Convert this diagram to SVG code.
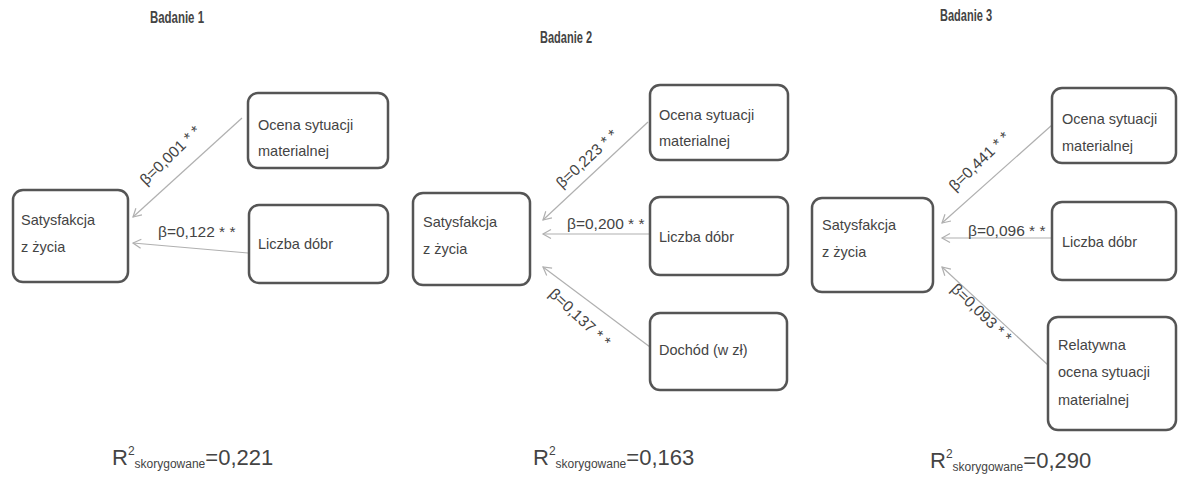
<svg xmlns="http://www.w3.org/2000/svg" width="1182" height="478" viewBox="0 0 1182 478">
<style>
text{font-family:"Liberation Sans",Arial,sans-serif;fill:#444}
.box{fill:#fff;stroke:#555;stroke-width:2.5}
.t{font-size:14.5px}
.h{font-size:17px;font-weight:bold}
.b{font-size:15.5px}
.r{font-size:22px}
.s{font-size:12px}
.c{stroke:#b0b0b0;stroke-width:1.2;fill:none;marker-end:url(#ar)}
</style>
<defs>
<marker id="ar" markerWidth="12" markerHeight="12" refX="10" refY="6" orient="auto" markerUnits="userSpaceOnUse">
<path d="M2,1.5 L10,6 L2,10.5" fill="none" stroke="#b0b0b0" stroke-width="1.2"/>
</marker>
</defs>
<rect width="1182" height="478" fill="#fff"/>
<text class="h" x="150" y="23" textLength="54" lengthAdjust="spacingAndGlyphs">Badanie 1</text>
<text class="h" x="540" y="43" textLength="52" lengthAdjust="spacingAndGlyphs">Badanie 2</text>
<text class="h" x="940" y="21" textLength="52" lengthAdjust="spacingAndGlyphs">Badanie 3</text>

<g id="connectors">
<line class="c" x1="242" y1="118" x2="133" y2="217"/>
<line class="c" x1="248" y1="253" x2="133" y2="243"/>
<line class="c" x1="648" y1="122" x2="543" y2="220"/>
<line class="c" x1="650" y1="234" x2="543" y2="234"/>
<line class="c" x1="650" y1="347" x2="543" y2="267"/>
<line class="c" x1="1052" y1="125" x2="942" y2="223"/>
<line class="c" x1="1052" y1="238" x2="942" y2="238"/>
<line class="c" x1="1048" y1="365" x2="942" y2="267"/>
<text class="b" transform="translate(146,186) rotate(-44)">β=0,001 * *</text>
<text class="b" x="158" y="237">β=0,122 * *</text>
<text class="b" transform="translate(562,189) rotate(-43)">β=0,223 * *</text>
<text class="b" x="567" y="229">β=0,200 * *</text>
<text class="b" transform="translate(548,295) rotate(43)">β=0,137 * *</text>
<text class="b" transform="translate(955,192) rotate(-44)">β=0,441 * *</text>
<text class="b" x="968" y="236">β=0,096 * *</text>
<text class="b" transform="translate(950,290) rotate(44)">β=0,093 * *</text>
</g>

<g id="s1-satysfakcja"><rect class="box" x="13" y="190" width="115" height="92" rx="10"/>
<text class="t" x="21" y="225">Satysfakcja</text><text class="t" x="21" y="252">z życia</text></g>
<g id="s1-ocena"><rect class="box" x="248" y="93" width="140" height="75" rx="10"/>
<text class="t" x="258" y="130">Ocena sytuacji</text><text class="t" x="258" y="156">materialnej</text></g>
<g id="s1-liczba"><rect class="box" x="249" y="205" width="139" height="78" rx="10"/>
<text class="t" x="258" y="249">Liczba dóbr</text></g>

<g id="s2-satysfakcja"><rect class="box" x="413" y="193" width="117" height="92" rx="10"/>
<text class="t" x="423" y="227">Satysfakcja</text><text class="t" x="423" y="254">z życia</text></g>
<g id="s2-ocena"><rect class="box" x="650" y="85" width="138" height="75" rx="10"/>
<text class="t" x="659" y="120">Ocena sytuacji</text><text class="t" x="659" y="146">materialnej</text></g>
<g id="s2-liczba"><rect class="box" x="650" y="197" width="138" height="78" rx="10"/>
<text class="t" x="659" y="242">Liczba dóbr</text></g>
<g id="s2-dochod"><rect class="box" x="650" y="313" width="137" height="77" rx="10"/>
<text class="t" x="659" y="355">Dochód (w zł)</text></g>

<g id="s3-satysfakcja"><rect class="box" x="812" y="198" width="121" height="94" rx="10"/>
<text class="t" x="822" y="230">Satysfakcja</text><text class="t" x="822" y="257">z życia</text></g>
<g id="s3-ocena"><rect class="box" x="1052" y="88" width="124" height="75" rx="10"/>
<text class="t" x="1062" y="124">Ocena sytuacji</text><text class="t" x="1062" y="151">materialnej</text></g>
<g id="s3-liczba"><rect class="box" x="1052" y="202" width="124" height="78" rx="10"/>
<text class="t" x="1062" y="247">Liczba dóbr</text></g>
<g id="s3-relatywna"><rect class="box" x="1048" y="317" width="128" height="113" rx="10"/>
<text class="t" x="1058" y="350">Relatywna</text><text class="t" x="1058" y="377">ocena sytuacji</text><text class="t" x="1058" y="405">materialnej</text></g>

<text x="112" y="465"><tspan class="r">R</tspan><tspan class="s" dy="-10">2</tspan><tspan class="s" dy="13">skorygowane</tspan><tspan class="r" dy="-3">=0,221</tspan></text>
<text x="533" y="465"><tspan class="r">R</tspan><tspan class="s" dy="-10">2</tspan><tspan class="s" dy="13">skorygowane</tspan><tspan class="r" dy="-3">=0,163</tspan></text>
<text x="930" y="468"><tspan class="r">R</tspan><tspan class="s" dy="-10">2</tspan><tspan class="s" dy="13">skorygowane</tspan><tspan class="r" dy="-3">=0,290</tspan></text>
</svg>
